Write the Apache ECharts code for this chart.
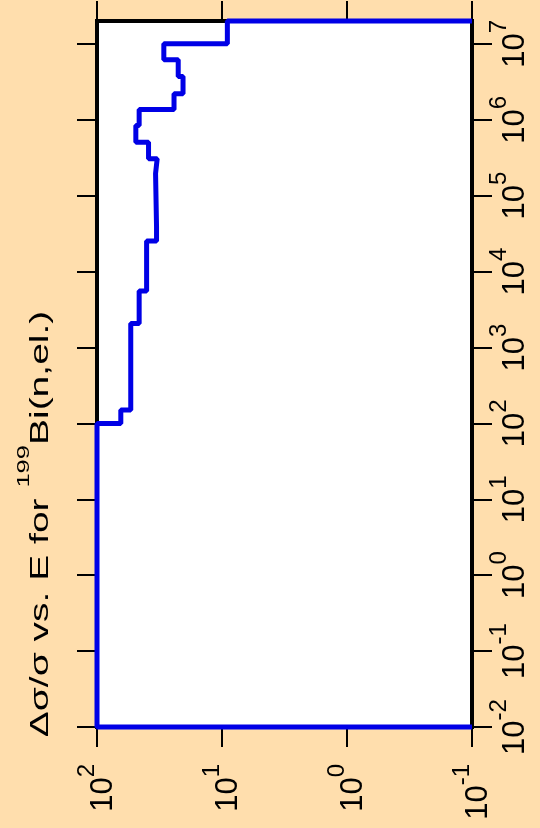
<!DOCTYPE html>
<html><head><meta charset="utf-8">
<script src="https://cdn.jsdelivr.net/npm/echarts@6/dist/echarts.min.js"></script>
<style>html,body{margin:0;padding:0;background:#FFDEAD}#c{width:540px;height:828px}</style>
</head><body><div id="c"></div>
<script>
// Energy bin edges (eV) and relative uncertainty (%) in each bin
const energyEdges = [0.01, 100, 150, 2070, 5560, 25300, 38600, 196000, 307000, 507000, 840000, 1370000, 2200000, 3710000, 6160000, 1e7, 2e7];
const relUncert = [100, 64.5, 53.7, 46.0, 40.1, 33.4, 34.0, 33.0, 38.7, 48.9, 46.0, 24.2, 20.5, 22.4, 29.2, 9.06];
const closeValue = 0.1;
const energyTicks = [0.01, 0.1, 1, 10, 100, 1e3, 1e4, 1e5, 1e6, 1e7];
const uncertTicks = [0.1, 1, 10, 100];

const pts = [[closeValue, energyEdges[0]]];
relUncert.forEach((v, i) => { pts.push([v, energyEdges[i]]); pts.push([v, energyEdges[i + 1]]); });
pts.push([closeValue, energyEdges[energyEdges.length - 1]]);

const FONT = 'Liberation Sans';
const rich = {
  b: { fontSize: 31, fontFamily: FONT, color: '#000', verticalAlign: 'bottom', lineHeight: 44 },
  s: { fontSize: 24, fontFamily: FONT, color: '#000', verticalAlign: 'top', lineHeight: 24 }
};
const fmt = v => '{b|10}{s|' + Math.round(Math.log10(v)) + '}';
const line = { show: true, onZero: false, lineStyle: { color: '#000', width: 2 } };
const tick = vals => ({ show: true, length: 20, lineStyle: { color: '#000', width: 2 }, customValues: vals });

const chart = echarts.init(document.getElementById('c'), null, { renderer: 'canvas' });
chart.setOption({
  backgroundColor: '#FFDEAD',
  animation: false,
  grid: { left: 97, right: 68, top: 21, bottom: 101, show: true, backgroundColor: '#fff', borderColor: '#000', borderWidth: 4 },
  xAxis: [
    { type: 'log', position: 'bottom', inverse: true, min: 0.1, max: 100, axisLine: line, axisTick: tick(uncertTicks),
      axisLabel: { rotate: 90, margin: 37, formatter: fmt, rich: rich, customValues: uncertTicks }, splitLine: { show: false } },
    { type: 'log', position: 'top', inverse: true, min: 0.1, max: 100, axisLine: line, axisTick: tick(uncertTicks),
      axisLabel: { show: false }, splitLine: { show: false } }
  ],
  yAxis: [
    { type: 'log', position: 'right', min: 0.01, max: 2e7, axisLine: line, axisTick: tick(energyTicks),
      axisLabel: { rotate: 90, margin: 15, formatter: fmt, rich: rich, customValues: energyTicks }, splitLine: { show: false } },
    { type: 'log', position: 'left', min: 0.01, max: 2e7, axisLine: line, axisTick: tick(energyTicks),
      axisLabel: { show: false }, splitLine: { show: false } }
  ],
  graphic: [{
    type: 'text', x: 35, y: 524, rotation: Math.PI / 2, scaleX: 1.5, scaleY: 1,
    style: {
      text: '{a|Δσ/σ vs. E for }{s|199}{a|Bi(n,el.)}',
      align: 'center', verticalAlign: 'middle',
      rich: {
        a: { fontSize: 26, fontFamily: FONT, fill: '#000', verticalAlign: 'bottom', lineHeight: 38 },
        s: { fontSize: 17, fontFamily: FONT, fill: '#000', verticalAlign: 'top', lineHeight: 17 }
      }
    }
  }],
  series: [{
    type: 'line', xAxisIndex: 0, yAxisIndex: 0, data: pts, symbol: 'none', clip: false,
    lineStyle: { color: '#0000E6', width: 5 }, z: 5
  }]
});
</script></body></html>
